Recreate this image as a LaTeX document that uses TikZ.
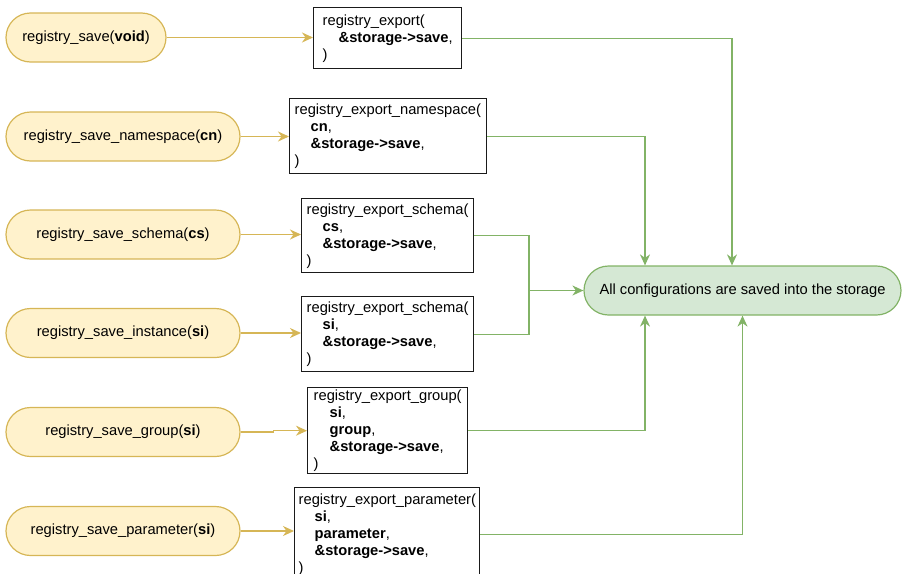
\documentclass[tikz,border=0pt]{standalone}
\usepackage{fontspec}
\setmainfont{Liberation Sans}
\usetikzlibrary{arrows.meta}

\definecolor{callfill}{HTML}{FFF2CC}
\definecolor{callline}{HTML}{D6B656}
\definecolor{donefill}{HTML}{D5E8D4}
\definecolor{doneline}{HTML}{82B366}
\definecolor{boxline}{HTML}{1A1A1A}

\tikzset{
  basefont/.style={font=\fontsize{14.7}{17}\selectfont},
  callpill/.style={basefont, draw=callline, fill=callfill, line width=1.2pt,
    rounded corners=24.5pt, minimum height=49pt, inner sep=0pt},
  donepill/.style={basefont, draw=doneline, fill=donefill, line width=1.2pt,
    rounded corners=24.5pt, minimum height=49pt, inner sep=0pt},
  codebox/.style={basefont, draw=boxline, fill=white, line width=1.4pt,
    align=left, anchor=north west, inner ysep=0pt},
  tip/.style={-{Stealth[length=11pt,width=10pt,inset=3.5pt]}},
  callarrow/.style={draw=callline, line width=1.3pt, tip},
  donelink/.style={draw=doneline, line width=1.3pt},
  donearrow/.style={donelink, tip},
}
\newcommand{\argind}{\hspace*{16pt}}

\begin{document}
\begin{tikzpicture}[x=1pt, y=-1pt]
  \useasboundingbox (0,0) rectangle (902,573);

  % calls on the left
  \node[callpill, minimum width=160pt] (p1) at (86,37.5) {registry\_save(\textbf{void})};
  \node[callpill, minimum width=234pt] (p2) at (123,136.5) {registry\_save\_namespace(\textbf{cn})};
  \node[callpill, minimum width=234pt] (p3) at (123,234.5) {registry\_save\_schema(\textbf{cs})};
  \node[callpill, minimum width=234pt] (p4) at (123,333) {registry\_save\_instance(\textbf{si})};
  \node[callpill, minimum width=234pt] (p5) at (123,432) {registry\_save\_group(\textbf{si})};
  \node[callpill, minimum width=234pt] (p6) at (123,531) {registry\_save\_parameter(\textbf{si})};

  % export calls
  \node[codebox, inner xsep=9pt, text width=130pt, minimum height=61pt] (b1) at (313,7)
    {registry\_export(\\ \argind\textbf{\&storage->save},\\ )};
  \node[codebox, inner xsep=5pt, text width=187pt, minimum height=75pt] (b2) at (289,98)
    {registry\_export\_namespace(\\ \argind\textbf{cn},\\ \argind\textbf{\&storage->save},\\ )};
  \node[codebox, inner xsep=5pt, text width=162pt, minimum height=74pt] (b3) at (301,198)
    {registry\_export\_schema(\\ \argind\textbf{cs},\\ \argind\textbf{\&storage->save},\\ )};
  \node[codebox, inner xsep=5pt, text width=162pt, minimum height=75pt] (b4) at (301,296)
    {registry\_export\_schema(\\ \argind\textbf{si},\\ \argind\textbf{\&storage->save},\\ )};
  \node[codebox, inner xsep=6pt, text width=148pt, minimum height=86pt] (b5) at (307,387)
    {registry\_export\_group(\\ \argind\textbf{si},\\ \argind\textbf{group},\\ \argind\textbf{\&storage->save},\\ )};
  \node[codebox, inner xsep=4pt, text width=177pt, minimum height=94pt] (b6) at (294,487)
    {registry\_export\_parameter(\\ \argind\textbf{si},\\ \argind\textbf{parameter},\\ \argind\textbf{\&storage->save},\\ )};

  % result
  \node[donepill, minimum width=317pt] (done) at (742.5,290.5)
    {All configurations are saved into the storage};

  % calls to exports
  \draw[callarrow] (p1.east) -- (p1.east -| b1.west);
  \draw[callarrow] (p2.east) -- (p2.east -| b2.west);
  \draw[callarrow] (p3.east) -- (p3.east -| b3.west);
  \draw[callarrow] (p4.east) -- (p4.east -| b4.west);
  \draw[callarrow] (p5.east) -- ++(33,0) |- (b5.west);
  \draw[callarrow] (p6.east) -- (p6.east -| b6.west);

  % exports to result
  \coordinate (join) at (529,290.5);
  \draw[donearrow] (b1.east) -| ([xshift=-10.5pt]done.north);
  \draw[donearrow] (b2.east) -| ([xshift=-97.5pt]done.north);
  \draw[donelink] (b3.east) -| (join);
  \draw[donelink] (b4.east) -| (join);
  \draw[donearrow] (join) -- (done.west);
  \draw[donearrow] (b5.east) -| ([xshift=-97.5pt]done.south);
  \draw[donearrow] (b6.east) -| (done.south);
\end{tikzpicture}
\end{document}
